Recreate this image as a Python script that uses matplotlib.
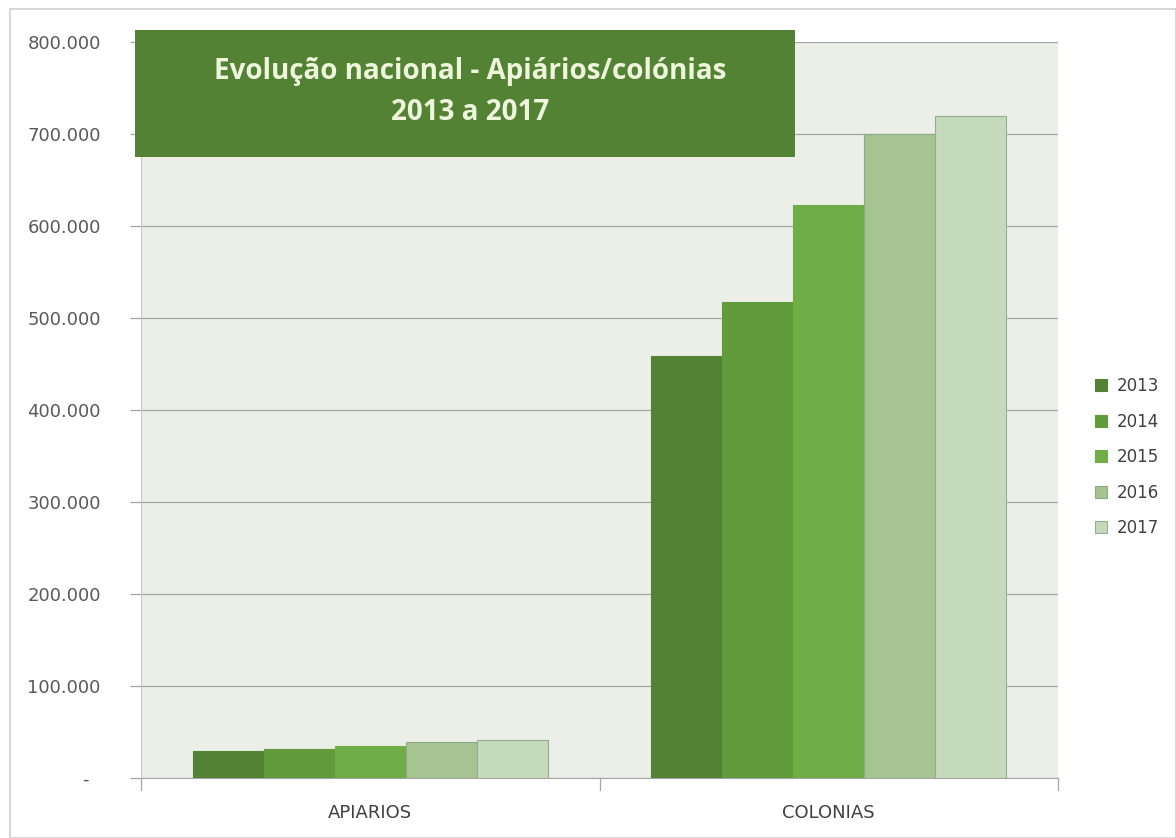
import matplotlib
matplotlib.use("Agg")
import matplotlib.pyplot as plt
from matplotlib.patches import Rectangle, Patch
from matplotlib.ticker import FuncFormatter, MultipleLocator
import numpy as np

categories = ["APIARIOS", "COLONIAS"]
years = ["2013", "2014", "2015", "2016", "2017"]
apiarios = [29500, 31000, 35000, 39000, 41000]
colonias = [459000, 517000, 623000, 700000, 720000]
colors = ["#548235", "#629B3C", "#70AD47", "#A6C492", "#C4DABA"]
edges = ["#548235", "#629B3C", "#70AD47", "#8FA886", "#9AA898"]

W, H = 1176, 838
fig = plt.figure(figsize=(W / 100, H / 100), dpi=100)
fig.patch.set_facecolor("white")

# chart frame
fig.patches.append(Rectangle((10 / W, 0), (W - 10) / W, (H - 9) / H,
                             transform=fig.transFigure, facecolor="none",
                             edgecolor="#D0D0D0", linewidth=1.2, zorder=-1))

ax = fig.add_axes([141 / W, 1 - 778 / H, (1058 - 141) / W, (778 - 42) / H])
ax.set_facecolor("#EBEFE7")

x = np.arange(len(categories))
bw = 0.155
for i, yr in enumerate(years):
    vals = [apiarios[i], colonias[i]]
    ax.bar(x + (i - 2) * bw, vals, width=bw, color=colors[i],
           edgecolor=edges[i], linewidth=0.8, zorder=3, label=yr)

ax.set_xlim(-0.5, 1.5)
ax.set_ylim(0, 800000)
ax.yaxis.set_major_locator(MultipleLocator(100000))
ax.yaxis.set_major_formatter(FuncFormatter(
    lambda v, p: "-\u2007" if v == 0 else f"{int(v):,}".replace(",", ".")))
ax.grid(axis="y", color="#A6A6A6", linewidth=0.9, zorder=1)
ax.set_axisbelow(True)

ax.set_xticks(x)
ax.set_xticklabels(categories)
ax.tick_params(axis="x", length=0, pad=19, labelsize=13, labelcolor="#404040")
ax.tick_params(axis="y", length=8, width=0.9, color="#A6A6A6", pad=21,
               labelsize=13, labelcolor="#595959")

# category separators below the axis
for xs in [-0.5, 0.5, 1.5]:
    ax.plot([xs, xs], [0, -13000], color="#A6A6A6", linewidth=0.9,
            clip_on=False, zorder=4)

for s in ["top", "right"]:
    ax.spines[s].set_visible(False)
ax.spines["left"].set_color("#C8CCC4")
ax.spines["bottom"].set_color("#A6A6A6")

# title box
fig.patches.append(Rectangle((135 / W, 1 - 157 / H), (795 - 135) / W, (157 - 30) / H,
                             transform=fig.transFigure, facecolor="#548235",
                             edgecolor="none", zorder=5))
fig.text(470 / W, 1 - 72 / H, "Evolução nacional - Apiários/colónias",
         ha="center", va="center", color="#EEF6DC", fontsize=20,
         fontweight="bold", family="Open Sans", zorder=6)
fig.text(470 / W, 1 - 112 / H, "2013 a 2017",
         ha="center", va="center", color="#EEF6DC", fontsize=20,
         fontweight="bold", family="Open Sans", zorder=6)

handles = [Patch(facecolor=c, edgecolor=e, linewidth=0.8) for c, e in zip(colors, edges)]
fig.legend(handles, years, loc="center left", bbox_to_anchor=(1080 / W, 1 - 457 / H),
           frameon=False, handlelength=0.7, handleheight=0.7, handletextpad=0.6,
           labelspacing=1.05, fontsize=12, labelcolor="#404040")

fig.savefig("out.png", dpi=100, facecolor="white")
